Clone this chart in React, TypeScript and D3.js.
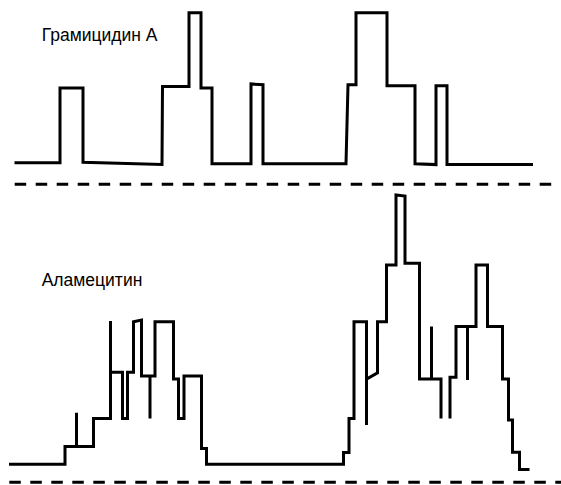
import React from "react";
import * as d3 from "d3";

// Time axis (ms) shared by both recordings
const timeDomain: [number, number] = [0, 110.4];

// Gramicidin A trace: step points [time ms, current pA]
const gramicidinTime = [1.1, 10.2, 10.2, 14.8, 14.8, 30.6, 30.7, 36.0, 36.0, 38.4, 38.4, 40.6, 40.6, 48.4, 48.4, 50.8, 50.8, 67.4, 67.8, 69.4, 69.4, 75.6, 75.6, 81.2, 81.2, 85.4, 85.4, 87.6, 87.6, 104.8];
const gramicidinCurrent = [0, 0, 1.99, 1.99, 0.01, -0.05, 2.03, 2.03, 4.0, 4.0, 1.99, 1.99, -0.03, -0.03, 2.1, 2.08, -0.03, -0.03, 2.08, 2.08, 4.0, 4.0, 2.05, 2.05, -0.03, -0.05, 2.05, 2.05, -0.05, -0.05];

// Alamethicin trace: step points [time ms, current pA]; null = gap in the record
const alamethicinTime = [0, 11.2, 11.2, 13.5, 13.5, 13.5, 16.9, 16.9, 20.3, 20.3, 20.3, 22.7, 22.7, 23.7, 23.7, 24.9, 24.9, 26.5, 26.5, 28.2, 28.2, 28.2, 29.2, 29.2, 32.9, 32.9, 33.9, 33.9, 35.0, 35.0, 38.5, 38.5, 39.5, 39.5, 66.9, 66.9, 68.0, 68.0, 69.0, 69.0, 71.5, 71.5, 71.5, 73.7, 73.7, 75.5, 75.5, 77.4, 77.4, 79.2, 79.2, 82.1, 82.1, 84.5, 84.5, 84.5, 86.4, 86.4, 87.3, 88.2, 88.2, 89.4, 89.4, 91.7, 91.7, 91.7, 93.4, 93.4, 95.7, 95.7, 98.7, 98.7, 99.9, 99.9, 100.7, 100.7, 102.1, 102.1, 104.1];
const alamethicinCurrent: (number | null)[] = [0, 0, 0.59, 0.59, 1.72, 0.59, 0.59, 1.53, 1.53, 4.78, 3.07, 3.07, 1.53, 1.53, 3.07, 3.07, 4.75, 4.81, 2.94, 2.94, 1.53, 2.94, 2.94, 4.75, 4.75, 2.84, 2.84, 1.53, 1.53, 2.94, 2.94, 0.53, 0.53, 0, 0, 0.39, 0.39, 1.53, 1.53, 4.75, 4.75, 1.31, 2.84, 3.05, 4.75, 4.75, 6.64, 6.64, 8.98, 8.94, 6.7, 6.7, 2.84, 2.84, 4.59, 2.84, 2.84, 1.53, null, 1.53, 2.9, 2.9, 4.59, 4.59, 2.81, 4.59, 4.59, 6.64, 6.64, 4.59, 4.59, 2.84, 2.84, 1.48, 1.48, 0.4, 0.4, -0.17, -0.17];

// Trace labels
const labels = ["Грамицидин А", "Аламецитин"];

// Dashed separator extents (ms)
const separatorTop: [number, number] = [1.14, 108.6];
const separatorBottom: [number, number] = [0.06, 110.4];

const W = 561;
const H = 485;

export default function App() {
  const x = d3.scaleLinear().domain(timeDomain).range([9, 561]);
  const yG = d3.scaleLinear().domain([0, 4]).range([162.7, 12.7]);
  const yA = d3.scaleLinear().domain([0, 9]).range([464.3, 194.3]);

  const gPts = gramicidinTime.map((t, i) => [t, gramicidinCurrent[i]] as [number, number | null]);
  const aPts = alamethicinTime.map((t, i) => [t, alamethicinCurrent[i]] as [number, number | null]);

  const lineG = d3
    .line<[number, number | null]>()
    .defined((d) => d[1] !== null)
    .x((d) => x(d[0]))
    .y((d) => yG(d[1] as number));
  const lineA = d3
    .line<[number, number | null]>()
    .defined((d) => d[1] !== null)
    .x((d) => x(d[0]))
    .y((d) => yA(d[1] as number));

  const topSepY = yG(-0.575);
  const botSepY = yA(-0.6);

  return (
    <svg
      width={W}
      height={H}
      style={{ position: "absolute", left: 0, top: 0, background: "#fff" }}
    >
      <rect width={W} height={H} fill="#fff" />
      <path d={lineG(gPts) || ""} fill="none" stroke="#000" strokeWidth={3} strokeLinejoin="miter" />
      <path d={lineA(aPts) || ""} fill="none" stroke="#000" strokeWidth={3} strokeLinejoin="miter" />
      <line
        x1={x(separatorTop[0])}
        x2={x(separatorTop[1])}
        y1={topSepY}
        y2={topSepY}
        stroke="#000"
        strokeWidth={3}
        strokeDasharray="11.5 9.5"
      />
      <line
        x1={x(separatorBottom[0])}
        x2={x(separatorBottom[1])}
        y1={botSepY}
        y2={botSepY}
        stroke="#000"
        strokeWidth={3}
        strokeDasharray="11.5 9.5"
      />
      <text x={41.7} y={41.3} fontFamily="Liberation Sans, Arial, sans-serif" fontSize={17.5} fill="#000">
        {labels[0]}
      </text>
      <text x={41.7} y={285.7} fontFamily="Liberation Sans, Arial, sans-serif" fontSize={17.5} fill="#000">
        {labels[1]}
      </text>
    </svg>
  );
}
